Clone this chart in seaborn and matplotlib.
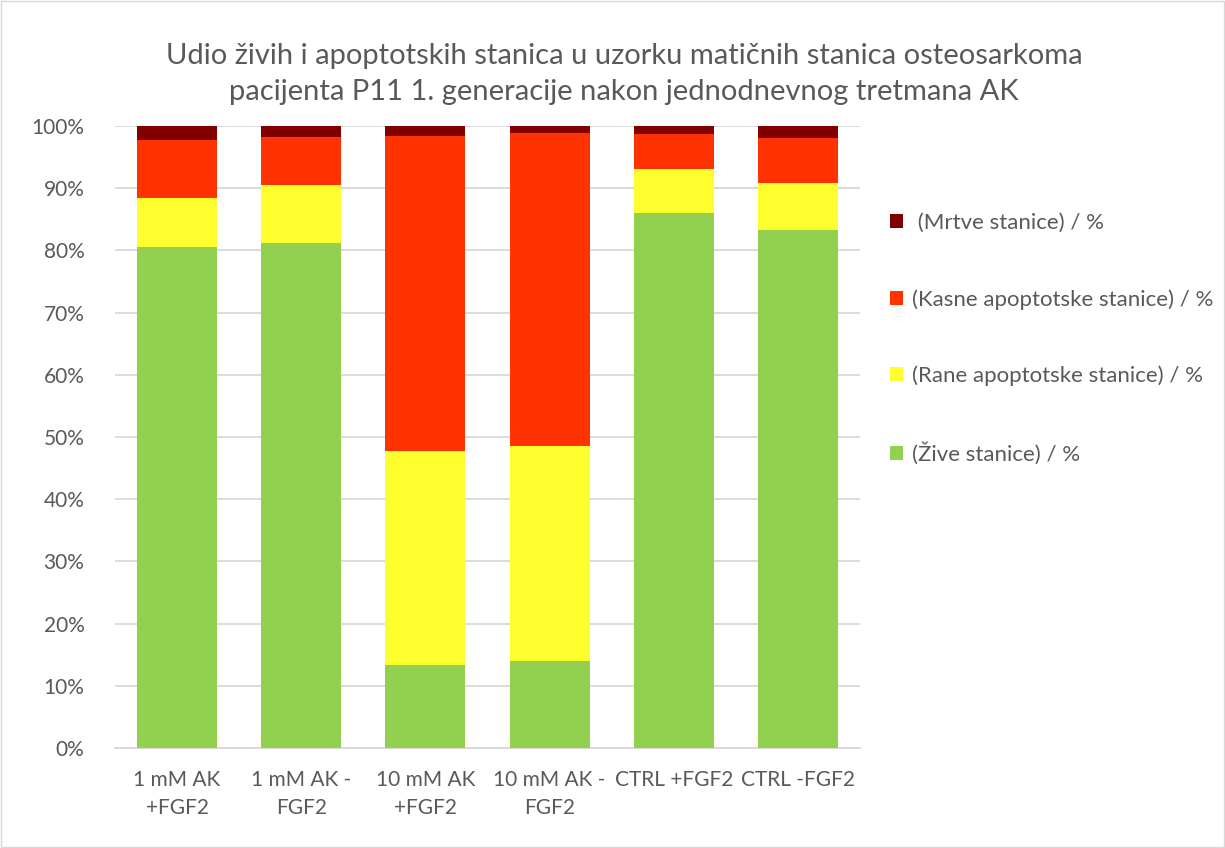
import matplotlib
matplotlib.use("Agg")
import matplotlib.pyplot as plt
import seaborn as sns
import pandas as pd
import numpy as np
from matplotlib.patches import Patch, Rectangle
from matplotlib.ticker import PercentFormatter

categories = ["1 mM AK\n+FGF2", "1 mM AK -\nFGF2", "10 mM AK\n+FGF2", "10 mM AK -\nFGF2", "CTRL +FGF2", "CTRL -FGF2"]
zive = [80.6, 81.2, 13.3, 14.0, 86.0, 83.3]
rane = [7.8, 9.3, 34.4, 34.6, 7.1, 7.5]
kasne = [9.4, 7.7, 50.7, 50.2, 5.6, 7.2]
mrtve = [2.2, 1.8, 1.6, 1.2, 1.3, 2.0]

series_names = ["(Žive stanice) / %", "(Rane apoptotske stanice) / %",
                "(Kasne apoptotske stanice) / %", " (Mrtve stanice) / %"]
series_vals = [zive, rane, kasne, mrtve]
colors = ["#92d050", "#ffff2f", "#ff3300", "#800000"]

sns.set_theme(style="white")
plt.rcParams['font.family'] = ['Lato', 'DejaVu Sans']
txt = "#595959"

fig = plt.figure(figsize=(12.25, 8.48), dpi=100)
ax = fig.add_axes([115/1225, 1 - 748/848, 745/1225, 622/848])

bottom = np.zeros(len(categories))
for name, vals, col in zip(series_names, series_vals, colors):
    df = pd.DataFrame({"cat": categories, "val": vals})
    sns.barplot(data=df, x="cat", y="val", color=col, ax=ax, bottom=bottom,
                width=0.645, saturation=1, linewidth=0, zorder=3)
    bottom = bottom + np.array(vals)

ax.set_ylim(0, 100)
ax.set_xlim(-0.5, len(categories) - 0.5)
ax.set_yticks(np.arange(0, 101, 10))
ax.yaxis.set_major_formatter(PercentFormatter(decimals=0))
ax.grid(axis="y", color="#d9d9d9", linewidth=1.3, zorder=0)
ax.set_axisbelow(True)
for s in ["top", "right", "left"]:
    ax.spines[s].set_visible(False)
ax.spines["bottom"].set_color("#d9d9d9")
ax.spines["bottom"].set_linewidth(1.3)
ax.set_xlabel("")
ax.set_ylabel("")
ax.tick_params(axis="both", colors=txt, labelsize=15, length=0)
ax.tick_params(axis="x", pad=16)
ax.tick_params(axis="y", pad=22)
for lab in ax.get_xticklabels():
    lab.set_linespacing(1.5)

fig.text(624/1225, 1 - 74/848, "Udio živih i apoptotskih stanica u uzorku matičnih stanica osteosarkoma\npacijenta P11 1. generacije nakon jednodnevnog tretmana AK",
         ha="center", va="center", fontsize=21, color=txt, linespacing=1.5)

handles = [Patch(facecolor=c, edgecolor="none") for c in colors][::-1]
labels = series_names[::-1]
fig.legend(handles, labels, loc="upper left", bbox_to_anchor=(870/1225, 1 - 193/848),
           frameon=False, fontsize=16, labelcolor=txt, handlelength=0.6, handleheight=0.6,
           handletextpad=0.4, labelspacing=2.52)

fig.patches.append(Rectangle((1/1225, 1/848), 1 - 2/1225, 1 - 2/848, transform=fig.transFigure,
                             fill=False, edgecolor="#d9d9d9", linewidth=1))

fig.savefig("out.png", dpi=100, facecolor="white")
